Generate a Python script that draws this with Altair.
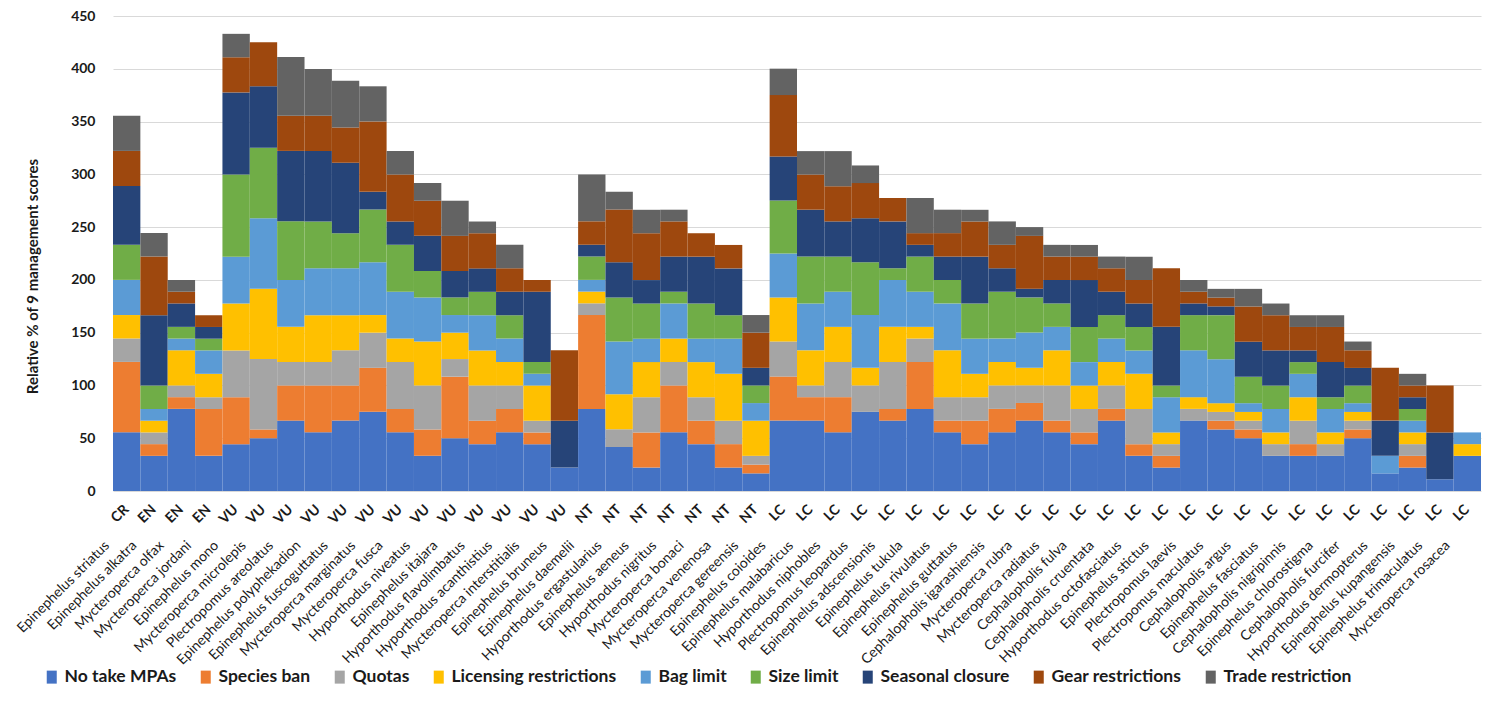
import altair as alt
import pandas as pd

SPECIES = [
    "Epinephelus striatus", "Epinephelus alkatra", "Mycteroperca olfax", "Mycteroperca jordani",
    "Epinephelus mono", "Mycteroperca microlepis", "Plectropomus areolatus", "Epinephelus polyphekadion",
    "Epinephelus fuscoguttatus", "Mycteroperca marginatus", "Mycteroperca fusca", "Hyporthodus niveatus",
    "Epinephelus itajara", "Hyporthodus flavolimbatus", "Hyporthodus acanthistius", "Mycteroperca interstitialis",
    "Epinephelus bruneus", "Epinephelus daemelii", "Hyporthodus ergastularius", "Epinephelus aeneus",
    "Hyporthodus nigritus", "Mycteroperca bonaci", "Mycteroperca venenosa", "Mycteroperca gereensis",
    "Epinephelus coioides", "Epinephelus malabaricus", "Hyporthodus niphobles", "Plectropomus leopardus",
    "Epinephelus adscensionis", "Epinephelus tukula", "Epinephelus rivulatus", "Epinephelus guttatus",
    "Cephalopholis igarashiensis", "Mycteroperca rubra", "Mycteroperca radiatus", "Cephalopholis fulva",
    "Cephalopholis cruentata", "Hyporthodus octofasciatus", "Epinephelus stictus", "Plectropomus laevis",
    "Plectropomus maculatus", "Cephalopholis argus", "Epinephelus fasciatus", "Cephalopholis nigripinnis",
    "Epinephelus chlorostigma", "Cephalopholis furcifer", "Hyporthodus dermopterus", "Epinephelus kupangensis",
    "Epinephelus trimaculatus", "Mycteroperca rosacea",
]
STATUS = ["CR"] + ["EN"] * 3 + ["VU"] * 13 + ["NT"] * 7 + ["LC"] * 26

CATEGORIES = ["No take MPAs", "Species ban", "Quotas", "Licensing restrictions", "Bag limit",
              "Size limit", "Seasonal closure", "Gear restrictions", "Trade restriction"]
COLORS = ["#4472C4", "#ED7D31", "#A5A5A5", "#FFC000", "#5B9BD5",
          "#70AD47", "#264478", "#9E480E", "#636363"]

NO_TAKE = [55.6, 33.3, 77.8, 33.3, 44.4, 50, 66.7, 55.6, 66.7, 75, 55.6, 33.3, 50, 44.4, 55.6, 44.4, 22.2,
           77.8, 41.7, 22.2, 55.6, 44.4, 22.2, 16.7, 66.7, 66.7, 55.6, 75, 66.7, 77.8, 55.6, 44.4, 55.6,
           66.7, 55.6, 44.4, 66.7, 33.3, 22.2, 66.7, 58.3, 50, 33.3, 33.3, 33.3, 50, 16.7, 22.2, 11.1, 33.3]
SPECIES_BAN = [66.7, 11.1, 11.1, 44.4, 44.4, 8.3, 33.3, 44.4, 33.3, 41.7, 22.2, 25, 58.3, 22.2, 22.2, 11.1, 0,
               88.9, 0, 33.3, 44.4, 22.2, 22.2, 8.3, 41.7, 22.2, 33.3, 0, 11.1, 44.4, 11.1, 22.2, 22.2,
               16.7, 11.1, 11.1, 11.1, 11.1, 11.1, 0, 8.3, 8.3, 0, 11.1, 0, 8.3, 0, 11.1, 0, 0]
QUOTAS = [22.2, 11.1, 11.1, 11.1, 44.4, 66.7, 22.2, 22.2, 33.3, 33.3, 44.4, 41.7, 16.7, 33.3, 22.2, 11.1, 0,
          11.1, 16.7, 33.3, 22.2, 22.2, 22.2, 8.3, 33.3, 11.1, 33.3, 25, 44.4, 22.2, 22.2, 22.2, 22.2,
          16.7, 33.3, 22.2, 22.2, 33.3, 11.1, 11.1, 8.3, 8.3, 11.1, 22.2, 11.1, 8.3, 0, 11.1, 0, 0]
LICENSING = [22.2, 11.1, 33.3, 22.2, 44.4, 66.7, 33.3, 44.4, 33.3, 16.7, 22.2, 41.7, 25, 33.3, 22.2, 33.3, 0,
             11.1, 33.3, 33.3, 22.2, 33.3, 44.4, 33.3, 41.7, 33.3, 33.3, 16.7, 33.3, 11.1, 44.4, 22.2, 22.2,
             16.7, 33.3, 22.2, 22.2, 33.3, 11.1, 11.1, 8.3, 8.3, 11.1, 22.2, 11.1, 8.3, 0, 11.1, 0, 11.1]
BAG_LIMIT = [33.3, 11.1, 11.1, 22.2, 44.4, 66.7, 44.4, 44.4, 44.4, 50, 44.4, 41.7, 16.7, 33.3, 22.2, 11.1, 0,
             11.1, 50, 22.2, 33.3, 22.2, 33.3, 16.7, 41.7, 44.4, 33.3, 50, 44.4, 33.3, 44.4, 33.3, 22.2,
             33.3, 22.2, 22.2, 22.2, 22.2, 33.3, 44.4, 41.7, 8.3, 22.2, 22.2, 22.2, 8.3, 16.7, 11.1, 0, 11.1]
SIZE_LIMIT = [33.3, 22.2, 11.1, 11.1, 77.8, 66.7, 55.6, 44.4, 33.3, 50, 44.4, 25, 16.7, 22.2, 22.2, 11.1, 0,
              22.2, 41.7, 33.3, 11.1, 33.3, 22.2, 16.7, 50, 44.4, 33.3, 50, 11.1, 33.3, 22.2, 33.3, 44.4,
              33.3, 22.2, 33.3, 22.2, 22.2, 11.1, 33.3, 41.7, 25, 22.2, 11.1, 11.1, 16.7, 0, 11.1, 0, 0]
SEASONAL = [55.6, 66.7, 22.2, 11.1, 77.8, 58.3, 66.7, 66.7, 66.7, 16.7, 22.2, 33.3, 25, 22.2, 22.2, 66.7, 44.4,
            11.1, 33.3, 22.2, 33.3, 44.4, 44.4, 16.7, 41.7, 44.4, 33.3, 41.7, 44.4, 11.1, 22.2, 44.4, 22.2,
            8.3, 22.2, 44.4, 22.2, 22.2, 55.6, 11.1, 8.3, 33.3, 33.3, 11.1, 33.3, 16.7, 33.3, 11.1, 44.4, 0]
GEAR = [33.3, 55.6, 11.1, 11.1, 33.3, 41.7, 33.3, 33.3, 33.3, 66.7, 44.4, 33.3, 33.3, 33.3, 22.2, 11.1, 66.7,
        22.2, 50, 44.4, 33.3, 22.2, 22.2, 33.3, 58.3, 33.3, 33.3, 33.3, 22.2, 11.1, 22.2, 33.3, 22.2,
        50, 22.2, 22.2, 22.2, 22.2, 55.6, 11.1, 8.3, 33.3, 33.3, 22.2, 33.3, 16.7, 50, 11.1, 44.4, 0]
TRADE = [33.3, 22.2, 11.1, 0, 22.2, 0, 55.6, 44.4, 44.4, 33.3, 22.2, 16.7, 33.3, 11.1, 22.2, 0, 0,
         44.4, 16.7, 22.2, 11.1, 0, 0, 16.7, 25, 22.2, 33.3, 16.7, 0, 33.3, 22.2, 11.1, 22.2,
         8.3, 11.1, 11.1, 11.1, 22.2, 0, 11.1, 8.3, 16.7, 11.1, 11.1, 11.1, 8.3, 0, 11.1, 0, 0]

SERIES = [NO_TAKE, SPECIES_BAN, QUOTAS, LICENSING, BAG_LIMIT, SIZE_LIMIT, SEASONAL, GEAR, TRADE]

rows = []
for i, sp in enumerate(SPECIES):
    for k, cat in enumerate(CATEGORIES):
        v = SERIES[k][i]
        if v > 0:
            rows.append({"pos": i, "species": sp, "status": STATUS[i], "cat": cat, "k": k, "value": v})
df = pd.DataFrame(rows)
sp_df = pd.DataFrame({"pos": list(range(len(SPECIES))), "species": SPECIES})

W, H = 1368, 475
FONT = "Lato"
status_expr = "[" + ",".join("'%s'" % s for s in STATUS) + "][datum.value]"

xscale = alt.Scale(paddingInner=0, paddingOuter=0)

bars = alt.Chart(df).mark_bar(strokeWidth=0).encode(
    x=alt.X("pos:O", scale=xscale, sort=list(range(len(SPECIES))),
            axis=alt.Axis(labelExpr=status_expr, labelAngle=315, labelAlign="right",
                          labelBaseline="middle", labelPadding=16, labelFont=FONT,
                          labelFontSize=14, labelFontWeight="bold", labelColor="#1a1a1a",
                          labelOverlap=False, ticks=False, domain=False, grid=False, title=None)),
    y=alt.Y("value:Q", stack="zero", scale=alt.Scale(domain=[0, 450], nice=False),
            axis=alt.Axis(values=list(range(0, 451, 50)), grid=True, gridColor="#d9d9d9",
                          gridWidth=1, domain=False, ticks=False, labelFont=FONT,
                          labelFontSize=14, labelFontWeight="bold", labelColor="#1a1a1a",
                          labelPadding=18, title="Relative % of 9 management scores",
                          titleFont=FONT, titleFontSize=15, titleFontWeight="bold",
                          titleColor="#1a1a1a", titleX=-73, titleY=260, titleAngle=270,
                          titleAlign="center", titleBaseline="bottom")),
    color=alt.Color("cat:N", scale=alt.Scale(domain=CATEGORIES, range=COLORS),
                    legend=alt.Legend(orient="none", legendX=-70, legendY=652,
                                      direction="horizontal", columns=9, title=None,
                                      symbolType="M-0.77,-1H0.77V1H-0.77Z", symbolSize=169,
                                      symbolStrokeWidth=0, labelFont=FONT, labelFontSize=17.5,
                                      labelFontWeight="bold", labelColor="#1a1a1a",
                                      labelOffset=4, columnPadding=20, labelLimit=400)),
    order=alt.Order("k:Q", sort="ascending"),
)

labels = alt.Chart(sp_df).mark_text(
    angle=315, align="right", baseline="middle", dx=-27.6, font=FONT, fontSize=14, color="#1a1a1a"
).encode(
    x=alt.X("pos:O", scale=xscale, sort=list(range(len(SPECIES)))),
    y=alt.value(H + 33),
    text="species:N",
)

chart = alt.layer(bars, labels).properties(
    width=W, height=H,
    autosize=alt.AutoSizeParams(type="none"),
    padding={"left": 105, "top": 8, "right": 5, "bottom": 215},
    background="white",
).configure_view(stroke=None)

chart.save("out.html", embed_options={"renderer": "svg", "actions": False})
